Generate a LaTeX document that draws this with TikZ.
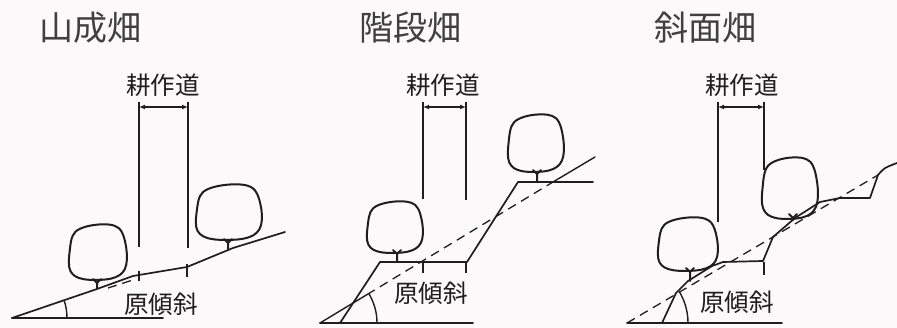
\documentclass[tikz,border=0pt]{standalone}
\usepackage{fontspec}
\usepackage{tikz}
\usetikzlibrary{arrows.meta}
\newfontfamily\jpfont{Noto Sans CJK JP}
\definecolor{cInk}{RGB}{30,30,30}
\definecolor{cPaper}{RGB}{251,249,250}
\tikzset{
	title/.style    ={font=\jpfont\fontsize{34}{36}\selectfont, text=cInk!85, inner sep=0pt},
	lbl/.style      ={font=\jpfont\fontsize{24.5}{26}\selectfont, text=cInk, inner sep=0pt},
	ground/.style   ={draw=cInk, line width=1.7pt, line join=round, line cap=round},
	orig/.style     ={draw=cInk, line width=1.3pt, dash pattern=on 9pt off 6pt},
	dimline/.style  ={draw=cInk, line width=1.2pt},
	dimarrow/.style ={{Latex[length=6pt,width=5pt]}-{Latex[length=6pt,width=5pt]}, draw=cInk, line width=1.3pt},
	treeline/.style ={draw=cInk, line width=2pt, line join=round, line cap=round},
	% tree crown, unit size, y pointing down
	crown/.pic      ={\draw[treeline] plot[smooth cycle, tension=0.6] coordinates {(-0.95,0.68) (-0.98,0) (-0.78,-0.72) (0,-0.98) (0.72,-0.85) (0.98,-0.1) (0.92,0.62) (0.45,0.95) (-0.5,0.97)};},
}
% trunk: x, bottom of crown, ground
\newcommand{\trunk}[3]{\draw[treeline] (#1,#3) -- (#1,#2+4) (#1-4,#2) -- (#1,#2+4) -- (#1+4,#2);}

\begin{document}
\begin{tikzpicture}[x=1pt, y=-1pt]
	\fill[cPaper] (0,0) rectangle (897,328);
	\useasboundingbox (0,0) rectangle (897,328);

	% ---- 山成畑 ----
	\node[title] (t1) at (90,28) {山成畑};
	\node[lbl] (r1) at (163,85) {耕作道};
	\node[lbl] (o1) at (161,304) {原傾斜};
	\coordinate (d1a) at (139,102);
	\coordinate (d1b) at (188,102);
	\draw[dimline] (d1a) -- (139,247) (139,271) -- (139,281);
	\draw[dimline] (d1b) -- (188,248) (187,264) -- (187,277);
	\draw[dimarrow] (139,107) -- (188,107);
	\draw[ground] (12,318) -- (163,318);
	\draw[ground] (12,318) -- (97,289) -- (133,276) -- (187,267) -- (233,248) -- (285,232);
	\draw[orig] (108,288) -- (136,279);
	\draw[ground, line width=1.4pt] (67,318) arc[start angle=0, end angle=-19, radius=55];
	\pic[xscale=29, yscale=28] at (98,252) {crown};
	\trunk{97}{279}{289}
	\pic[xscale=33, yscale=28] at (229,212) {crown};
	\trunk{228}{239}{250}

	% ---- 階段畑 ----
	\node[title] (t2) at (410,28) {階段畑};
	\node[lbl] (r2) at (443,85) {耕作道};
	\node[lbl] (o2) at (431,293) {原傾斜};
	\coordinate (d2a) at (423,102);
	\coordinate (d2b) at (466,102);
	\draw[dimline] (d2a) -- (423,199) (423,262) -- (423,273);
	\draw[dimline] (d2b) -- (466,200) (466,262) -- (466,273);
	\draw[dimarrow] (423,107) -- (466,107);
	\draw[ground] (320,323) -- (473,323);
	\draw[ground] (340,323) -- (380,262) -- (467,262) -- (518,182) -- (593,182);
	\draw[ground, line width=1.4pt] (320,323) -- (367,294.6);
	\draw[orig] (367,294.6) -- (553,182);
	\draw[ground, line width=1.4pt] (553,182) -- (595,157);
	\draw[ground, line width=1.4pt] (377,323) arc[start angle=0, end angle=-31, radius=57];
	\pic[xscale=28, yscale=26] at (395,227) {crown};
	\trunk{397}{250}{262}
	\pic[xscale=28, yscale=29] at (536,143) {crown};
	\trunk{537}{170}{182}

	% ---- 斜面畑 ----
	\node[title] (t3) at (705,28) {斜面畑};
	\node[lbl] (r3) at (742,85) {耕作道};
	\node[lbl] (o3) at (737,302) {原傾斜};
	\coordinate (d3a) at (718,102);
	\coordinate (d3b) at (764,102);
	\draw[dimline] (d3a) -- (718,222);
	\draw[dimline] (d3b) -- (764,170) (764,262) -- (764,275);
	\draw[dimarrow] (718,107) -- (764,107);
	\draw[ground] (627,323) -- (782,323);
	\draw[orig] (627,323) -- (878,175);
	\draw[ground] (662,323) -- (676,293) -- (688,281) -- (712,266) -- (723,262) -- (763,261)
		-- (773,237) -- (795,218) -- (820,202) -- (840,198) -- (870,198) -- (878,175)
		.. controls (884,168) .. (897,163);
	\draw[ground, line width=1.4pt] (688,323) arc[start angle=0, end angle=-30.5, radius=61];
	\pic[xscale=30, yscale=27] at (688,244) {crown};
	\trunk{690}{268}{281}
	\pic[xscale=28, yscale=31] at (790,188) {crown};
	\trunk{793}{214}{220}
\end{tikzpicture}
\end{document}
